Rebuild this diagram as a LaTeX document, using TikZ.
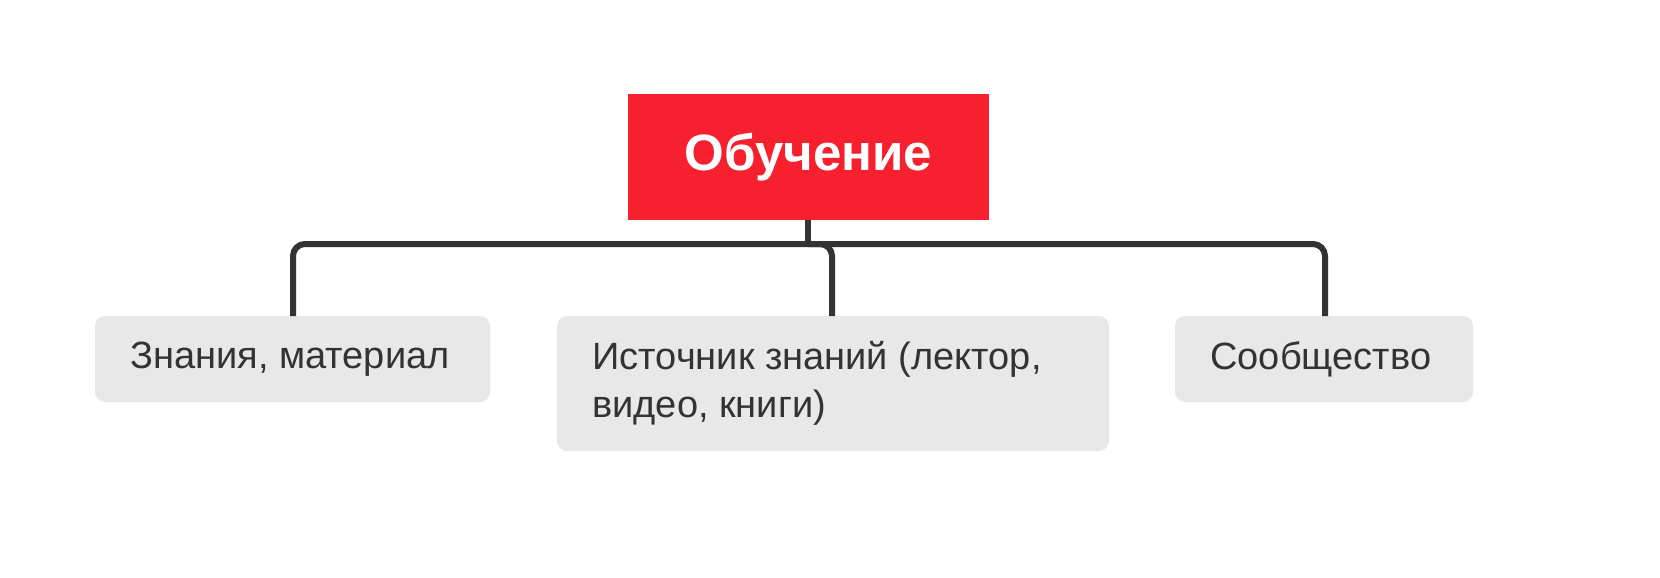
\documentclass[tikz,border=0pt]{standalone}
\usepackage{fontspec}
\setmainfont{Liberation Sans}
\definecolor{rootred}{HTML}{F7202F}
\definecolor{boxgray}{HTML}{E8E8E8}
\definecolor{ink}{HTML}{333333}
\begin{document}
\begin{tikzpicture}[x=0.5pt,y=-0.5pt,
  child/.style={fill=boxgray,rounded corners=5pt,draw=none},
  conn/.style={draw=ink,line width=3pt,rounded corners=6pt},
  lbl/.style={text=ink,font=\fontsize{19}{24}\selectfont,anchor=west,align=left,inner sep=0}]
\useasboundingbox (0,0) rectangle (1660,578);
\fill[rootred] (628,94) rectangle (989,220);
\node[text=white,font=\fontsize{25.5}{30}\selectfont\bfseries] (root) at (808.5,157) {Обучение};
\coordinate (rb) at (808,220);
\coordinate (j) at (808,244);
\fill[child] (95,316) rectangle (490,402);
\fill[child] (557,316) rectangle (1109,451);
\fill[child] (1175,316) rectangle (1473,402);
\coordinate (c1) at (293,316);
\coordinate (c2) at (832,316);
\coordinate (c3) at (1325,316);
\node[lbl] (t1) at (130,359) {Знания, материал};
\node[lbl] (t2) at (592,383) {Источник знаний (лектор,\\видео, книги)};
\node[lbl] (t3) at (1210,359) {Сообщество};
\draw[conn] (c1) |- (c3 |- j) -- (c3);
\draw[conn] (j) -| (c2);
\draw[draw=ink,line width=3pt] (rb) -- ([yshift=-1.5pt]j);
\end{tikzpicture}
\end{document}
